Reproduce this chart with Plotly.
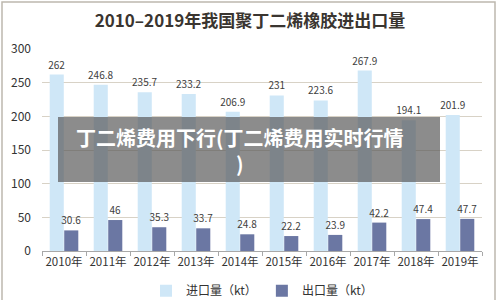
import plotly.graph_objects as go

years = ["2010年", "2011年", "2012年", "2013年", "2014年", "2015年", "2016年", "2017年", "2018年", "2019年"]
imports = [262, 246.8, 235.7, 233.2, 206.9, 231, 223.6, 267.9, 194.1, 201.9]
exports = [30.6, 46, 35.3, 33.7, 24.8, 22.2, 23.9, 42.2, 47.4, 47.7]
y_ticks = [0, 50, 100, 150, 200, 250, 300]

title_text = "2010–2019年我国聚丁二烯橡胶进出口量"
overlay_text = "丁二烯费用下行(丁二烯费用实时行情<br>)"

font_cjk = "Noto Sans CJK SC"

fig = go.Figure()
fig.add_trace(go.Bar(
    x=years, y=imports, name="进口量（kt）",
    marker=dict(color="#cfe7f7", line=dict(width=0)),
    text=[f"{v:g}" for v in imports], textposition="outside",
    constraintext="none",
    textfont=dict(size=10, color="#404040", family=font_cjk),
    cliponaxis=False,
))
fig.add_trace(go.Bar(
    x=years, y=exports, name="出口量（kt）",
    marker=dict(color="#6b77a3", line=dict(width=0)),
    text=[f"{v:g}" for v in exports], textposition="outside",
    constraintext="none",
    textfont=dict(size=10, color="#404040", family=font_cjk),
    cliponaxis=False,
))

fig.update_layout(
    width=500, height=300,
    margin=dict(l=42, r=18, t=49, b=49, autoexpand=False),
    paper_bgcolor="white", plot_bgcolor="white",
    barmode="group", bargap=0.34, bargroupgap=0.03,
    font=dict(family=font_cjk, color="#333333"),
    title=dict(text="<b>" + title_text + "</b>", x=0.5, xanchor="center",
               y=0.93, yanchor="middle",
               font=dict(size=17, color="#3a3530", family=font_cjk)),
    showlegend=True,
    legend=dict(orientation="h", x=0.5, xanchor="center", y=-0.125, yanchor="top",
                font=dict(size=12, color="#333333"), itemwidth=30,
                bgcolor="rgba(0,0,0,0)"),
)
fig.update_yaxes(range=[0, 300], tickvals=y_ticks, showgrid=True,
                 gridcolor="#d8d2c6", gridwidth=1, zeroline=False,
                 showline=False, tickfont=dict(size=12, color="#333333"),
                 ticks="", ticklabelstandoff=10, automargin=False)
fig.update_xaxes(showline=True, linecolor="#a8a8a8", linewidth=1,
                 ticks="outside", tickson="boundaries", ticklen=4,
                 tickcolor="#a8a8a8", tickfont=dict(size=11.5, color="#333333"),
                 tickangle=0, showgrid=False, automargin=False)

# outer border
fig.add_shape(type="rect", xref="paper", yref="paper",
              x0=-40/440, x1=453/440, y0=-60/202, y1=(251-2)/202,
              line=dict(color="#bdb8ae", width=1.5), fillcolor="rgba(0,0,0,0)")

# overlay banner
fig.add_shape(type="rect", xref="paper", yref="paper",
              x0=(58-42)/440, x1=(440-42)/440,
              y0=(251-182)/202, y1=(251-117)/202,
              line=dict(width=0), fillcolor="rgba(85,85,85,0.68)", layer="above")
fig.add_annotation(xref="paper", yref="paper", x=(240-42)/440, y=(251-150)/202,
                   text="<b>" + overlay_text + "</b>", showarrow=False,
                   font=dict(size=20, color="white", family=font_cjk),
                   align="center", xanchor="center", yanchor="middle")

fig.write_html("out.html")
